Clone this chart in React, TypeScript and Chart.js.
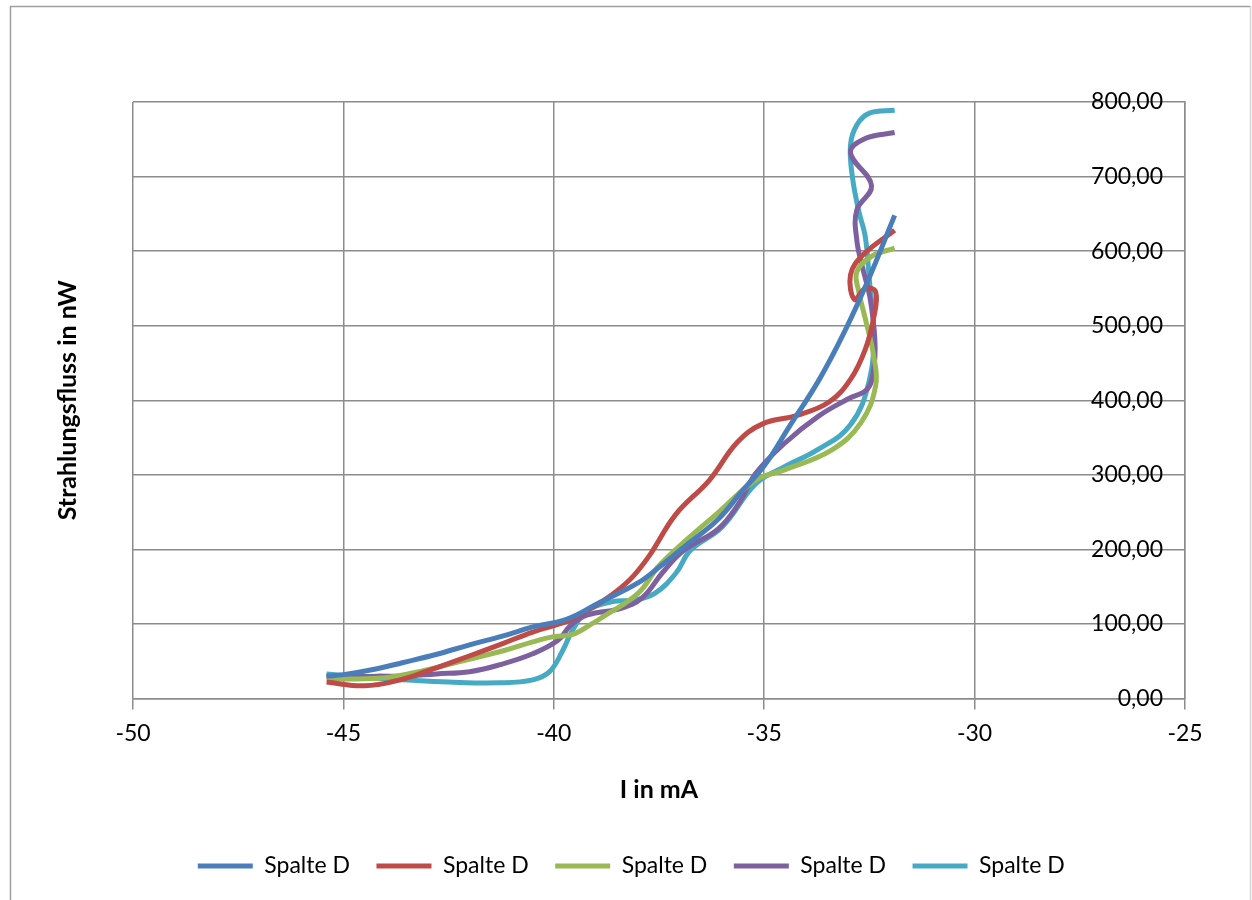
import React, { useEffect, useRef } from "react";
import { Chart, registerables } from "chart.js";

Chart.register(...registerables);

const FONT = "Lato, 'Open Sans', sans-serif";
const GRID = "#8c8c8c";

const SERIES_LABELS = ["Spalte D", "Spalte D", "Spalte D", "Spalte D", "Spalte D"];
const SERIES_COLORS = ["#4A7EBB", "#BE4B48", "#98B954", "#7D60A0", "#46AAC5"];

const X_TICKS = [-50, -45, -40, -35, -30, -25];
const Y_TICKS = [0, 100, 200, 300, 400, 500, 600, 700, 800];

const X_TITLE = "I in mA";
const Y_TITLE = "Strahlungsfluss in nW";

// Series 1 (blue)
const S1_I = [-45.4, -45.0, -44.2, -43.6, -42.8, -42.0, -41.2, -40.5, -39.7, -38.9, -38.0, -37.5, -36.8, -36.1, -35.5, -35.0, -34.4, -33.7, -33.1, -32.5, -31.9];
const S1_P = [30, 32, 40, 48, 59, 72, 84, 96, 106, 129, 155, 176, 208, 240, 280, 312, 365, 427, 491, 565, 648];

// Series 2 (red)
const S2_I = [-45.4, -44.5, -43.65, -43.0, -42.06, -41.2, -40.5, -39.7, -39.5, -38.8, -38.2, -37.75, -37.1, -36.3, -35.65, -35.05, -34.2, -33.45, -32.95, -32.6, -32.4, -32.35, -32.6, -32.85, -32.95, -32.65, -31.9];
const S2_P = [22, 17, 25, 37, 56, 74, 89, 103, 109, 132, 159, 190, 247, 293, 343, 368, 380, 398, 428, 468, 510, 545, 550, 535, 568, 595, 628];

// Series 3 (green)
const S3_I = [-45.4, -45.0, -44.2, -43.65, -42.9, -42.06, -41.2, -40.5, -40.0, -39.55, -39.1, -38.9, -38.0, -37.5, -36.8, -36.1, -35.2, -34.55, -33.4, -32.7, -32.35, -32.4, -32.6, -32.75, -32.8, -32.45, -31.9];
const S3_P = [27, 26, 27, 31, 40, 52, 64, 76, 83, 86, 100, 107, 141, 178, 215, 249, 293, 306, 333, 370, 420, 460, 510, 545, 572, 593, 604];

// Series 4 (purple)
const S4_I = [-45.4, -45.0, -44.2, -43.6, -42.8, -42.0, -41.3, -40.5, -39.9, -39.6, -39.2, -38.4, -37.9, -37.4, -36.9, -36.1, -35.6, -35.2, -34.5, -33.7, -33.0, -32.55, -32.4, -32.37, -32.49, -32.65, -32.8, -32.8, -32.45, -32.95, -32.6, -31.9];
const S4_P = [30, 29, 30, 30, 33, 36, 45, 60, 78, 98, 112, 121, 135, 170, 199, 227, 262, 302, 343, 379, 402, 415, 441, 481, 539, 575, 615, 655, 688, 732, 751, 759];

// Series 5 (cyan)
const S5_I = [-45.4, -45.0, -44.2, -43.6, -42.5, -41.3, -40.5, -40.1, -39.8, -39.55, -39.2, -38.6, -38.1, -37.6, -37.1, -36.75, -36.0, -35.2, -34.55, -33.75, -32.95, -32.5, -32.4, -32.5, -32.6, -32.75, -32.9, -32.95, -32.8, -32.5, -31.9];
const S5_P = [33, 31, 27, 25, 22, 21, 25, 36, 63, 92, 118, 130, 132, 141, 168, 199, 230, 288, 310, 333, 367, 427, 494, 561, 620, 653, 698, 742, 769, 785, 789];

const SERIES_I = [S1_I, S2_I, S3_I, S4_I, S5_I];
const SERIES_P = [S1_P, S2_P, S3_P, S4_P, S5_P];

const framePlugin = {
  id: "frame",
  beforeDraw(chart: any) {
    const ctx = chart.ctx;
    ctx.save();
    ctx.strokeStyle = "#a0a0a0";
    ctx.lineWidth = 1.5;
    ctx.beginPath();
    ctx.moveTo(10.5, 1000);
    ctx.lineTo(10.5, 6.5);
    ctx.lineTo(1250.5, 6.5);
    ctx.stroke();
    ctx.strokeStyle = "#d6d6d6";
    ctx.beginPath();
    ctx.moveTo(1250.5, 6.5);
    ctx.lineTo(1250.5, 1000);
    ctx.stroke();
    ctx.restore();
  },
};

export default function App() {
  const ref = useRef<HTMLCanvasElement | null>(null);

  useEffect(() => {
    if (!ref.current) return;
    const datasets = SERIES_LABELS.map((label, i) => ({
      label,
      data: SERIES_I[i].map((x, k) => ({ x, y: SERIES_P[i][k] })),
      borderColor: SERIES_COLORS[i],
      backgroundColor: SERIES_COLORS[i],
      borderWidth: 5,
      pointRadius: 0,
      pointHoverRadius: 0,
      showLine: true,
      tension: 0.4,
      fill: false,
    }));

    const chart = new Chart(ref.current, {
      type: "scatter",
      data: { datasets },
      plugins: [framePlugin],
      options: {
        responsive: false,
        animation: false,
        layout: { padding: { left: 10.5, right: 0, top: 102, bottom: 12.5 } },
        plugins: {
          tooltip: { enabled: false },
          legend: {
            position: "bottom",
            labels: {
              usePointStyle: true,
              pointStyle: "line",
              pointStyleWidth: 55,
              padding: 26.5,
              color: "#000",
              font: { family: FONT, size: 23 },
            },
          },
        },
        scales: {
          x: {
            type: "linear",
            position: "bottom",
            min: -50,
            max: -25,
            afterBuildTicks: (s: any) => {
              s.ticks = X_TICKS.map((v) => ({ value: v }));
            },
            ticks: { padding: 10, color: "#000", font: { family: FONT, size: 23 } },
            grid: { color: GRID, lineWidth: 1.5, tickLength: 11, drawTicks: true },
            border: { color: GRID, width: 1.5 },
            title: {
              display: true,
              text: X_TITLE,
              color: "#000",
              font: { family: FONT, size: 25, weight: "bold" },
              padding: { top: 0, bottom: 23 },
            },
            afterFit: (s: any) => {
              s.height = 129.5;
            },
          },
          y: {
            type: "linear",
            position: "right",
            min: 0,
            max: 800,
            afterBuildTicks: (s: any) => {
              s.ticks = Y_TICKS.map((v) => ({ value: v }));
            },
            ticks: {
              mirror: true,
              padding: -22,
              color: "#000",
              font: { family: FONT, size: 23 },
              callback: (v: any) => Number(v).toFixed(2).replace(".", ","),
            },
            grid: { color: GRID, lineWidth: 1.5, drawTicks: false },
            border: { color: GRID, width: 1.5 },
            afterFit: (s: any) => {
              s.width = 67;
            },
          },
          yTitle: {
            type: "linear",
            position: "left",
            min: 0,
            max: 1,
            grid: { display: false, drawTicks: false },
            border: { display: false },
            ticks: { display: false },
            title: {
              display: true,
              text: Y_TITLE,
              color: "#000",
              font: { family: FONT, size: 25, weight: "bold" },
              padding: { top: 42.5, bottom: 0 },
            },
            afterFit: (s: any) => {
              s.width = 122.5;
            },
          },
        },
      } as any,
    });
    return () => chart.destroy();
  }, []);

  return (
    <div style={{ position: "absolute", left: 0, top: 0, width: 1252, height: 900, background: "#fff" }}>
      <canvas ref={ref} width={1252} height={900} style={{ display: "block", width: 1252, height: 900 }} />
    </div>
  );
}
